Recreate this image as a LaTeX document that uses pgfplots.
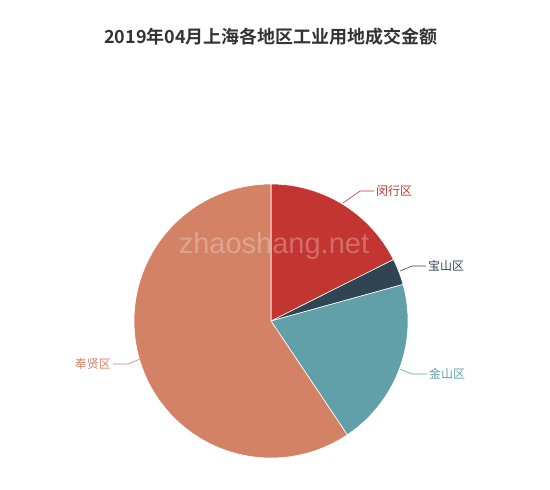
\documentclass[border=0pt]{standalone}
\usepackage{pgfplots}
\pgfplotsset{compat=1.18}
\usepackage{fontspec}
\setmainfont{Liberation Sans}
\newfontfamily\cjk{Noto Sans CJK SC}
\newfontfamily\cjkb{Noto Sans CJK SC Bold}
\definecolor{cA}{HTML}{C23531}
\definecolor{cB}{HTML}{2F4554}
\definecolor{cC}{HTML}{61A0A8}
\definecolor{cD}{HTML}{D48265}
\definecolor{titlec}{HTML}{333333}
% shares (percent) of each district, clockwise from top
\def\vA{17.6}% 闵行区
\def\vB{3.1}%  宝山区
\def\vC{19.9}% 金山区
\def\vD{59.4}% 奉贤区
\pgfmathsetmacro\aA{0}
\pgfmathsetmacro\aB{\vA*3.6}
\pgfmathsetmacro\aC{(\vA+\vB)*3.6}
\pgfmathsetmacro\aD{(\vA+\vB+\vC)*3.6}
\pgfmathsetmacro\aE{360}
\begin{document}
\begin{tikzpicture}
\begin{axis}[
  scale only axis, width=550bp, height=490bp,
  xmin=0, xmax=550, ymin=0, ymax=490, y dir=reverse,
  hide axis, clip=false,
]
\path (axis cs:0,0) rectangle (axis cs:550,490);
\addplot[fill=cA, draw=white, line width=0.6pt, domain=\aA:\aB, samples=80, variable=\t]
  ({271+137*sin(\t)},{321-137*cos(\t)}) -- (axis cs:271,321) -- cycle;
\addplot[fill=cB, draw=white, line width=0.6pt, domain=\aB:\aC, samples=30, variable=\t]
  ({271+137*sin(\t)},{321-137*cos(\t)}) -- (axis cs:271,321) -- cycle;
\addplot[fill=cC, draw=white, line width=0.6pt, domain=\aC:\aD, samples=80, variable=\t]
  ({271+137*sin(\t)},{321-137*cos(\t)}) -- (axis cs:271,321) -- cycle;
\addplot[fill=cD, draw=white, line width=0.6pt, domain=\aD:\aE, samples=150, variable=\t]
  ({271+137*sin(\t)},{321-137*cos(\t)}) -- (axis cs:271,321) -- cycle;
% leader lines
\addplot[cA, line width=0.6pt] coordinates {(343,203) (360,191) (374,191)};
\addplot[cB, line width=0.6pt] coordinates {(400,271) (412,266) (426,266)};
\addplot[cC, line width=0.6pt] coordinates {(400,369) (412,374) (427,374)};
\addplot[cD, line width=0.6pt] coordinates {(140,359) (128,364) (113,364)};
% labels
\node[anchor=west, text=cA, font=\cjk\fontsize{12bp}{14bp}\selectfont, inner sep=0pt] at (axis cs:376,191) {闵行区};
\node[anchor=west, text=cB, font=\cjk\fontsize{12bp}{14bp}\selectfont, inner sep=0pt] at (axis cs:428,266) {宝山区};
\node[anchor=west, text=cC, font=\cjk\fontsize{12bp}{14bp}\selectfont, inner sep=0pt] at (axis cs:429,374) {金山区};
\node[anchor=east, text=cD, font=\cjk\fontsize{12bp}{14bp}\selectfont, inner sep=0pt] at (axis cs:111,364) {奉贤区};
% watermark
\node[anchor=base, text=white, opacity=0.28, font=\fontsize{29bp}{32bp}\selectfont, inner sep=0pt] at (axis cs:274,253) {zhaoshang.net};
% title
\node[anchor=center, text=titlec, font=\cjkb\fontsize{18bp}{20bp}\selectfont, inner sep=0pt] at (axis cs:271,37) {2019年04月上海各地区工业用地成交金额};
\end{axis}
\end{tikzpicture}
\end{document}
